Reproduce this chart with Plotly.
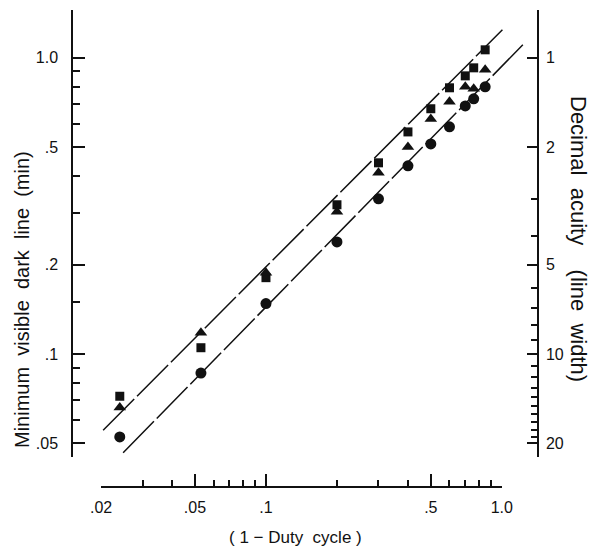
import numpy as np
import plotly.graph_objects as go

# ---------------- data ----------------
duty = [0.024, 0.053, 0.10, 0.20, 0.30, 0.40, 0.50, 0.60, 0.70, 0.76, 0.85]
squares = [0.072, 0.105, 0.181, 0.319, 0.442, 0.562, 0.673, 0.792, 0.869, 0.925, 1.064]
triangles = [0.066, 0.118, 0.188, 0.302, 0.409, 0.500, 0.622, 0.710, 0.798, 0.786, 0.911]
circles = [0.0525, 0.0862, 0.148, 0.239, 0.334, 0.432, 0.512, 0.585, 0.688, 0.727, 0.798]

upper_x = [0.0204, 1.006]
upper_y = [0.0553, 1.243]
lower_x = [0.0248, 1.228]
lower_y = [0.0464, 1.106]

# ---------------- tick labels ----------------
y_major = [1.0, 0.5, 0.2, 0.1, 0.05]
y_major_text = ["1.0", ".5", ".2", ".1", ".05"]
y_minor = [0.9, 0.8, 0.7, 0.6, 0.4, 0.3, 0.15, 0.09, 0.08, 0.07, 0.06]

x_major = [0.02, 0.05, 0.1, 0.5, 1.0]
x_major_text = [".02", ".05", ".1", ".5", "1.0"]
x_minor = [0.03, 0.04, 0.06, 0.07, 0.08, 0.09, 0.2, 0.3, 0.4, 0.6, 0.7, 0.8, 0.9]

acuity_major = [1, 2, 5, 10, 20]
acuity_major_text = ["1", "2", "5", "10", "20"]
acuity_minor = [3, 4, 6, 7, 8, 9, 11, 12, 13, 14, 15, 16, 17, 18, 19]

# ---------------- layout geometry ----------------
W, H = 602, 550
ML, MR, MT, MB = 73, 65, 10, 63
PW = W - ML - MR
PH = H - MT - MB

x_lo, x_hi = 0.0152, 1.41       # frame extent in data units
y_lo, y_hi = 0.0449, 1.45
xr = [float(np.log10(x_lo)), float(np.log10(x_hi))]
yr = [float(np.log10(y_lo)), float(np.log10(y_hi))]

ax_lo, ax_hi = x_major[0], x_major[-1]
d0 = (np.log10(ax_lo) - xr[0]) / (xr[1] - xr[0])
d1 = (np.log10(ax_hi) - xr[0]) / (xr[1] - xr[0])


def px2x(p):
    return (p - ML) / PW


def py2y(p):
    return (H - MB - p) / PH


FONT = "Liberation Sans, Arial, Helvetica, sans-serif"
BLACK = "#111111"

fig = go.Figure()

# helper empty traces so the extra axes get drawn
fig.add_trace(go.Scatter(x=[], y=[], xaxis="x2", yaxis="y", showlegend=False))
fig.add_trace(go.Scatter(x=[], y=[], xaxis="x", yaxis="y2", showlegend=False))

fig.add_trace(go.Scatter(x=upper_x, y=upper_y, mode="lines",
                         line=dict(color=BLACK, width=1.5, dash="44px,4px"),
                         hoverinfo="skip", showlegend=False))
fig.add_trace(go.Scatter(x=lower_x, y=lower_y, mode="lines",
                         line=dict(color=BLACK, width=1.5, dash="44px,4px"),
                         hoverinfo="skip", showlegend=False))

fig.add_trace(go.Scatter(x=duty, y=circles, mode="markers",
                         marker=dict(symbol="circle", size=11, color=BLACK),
                         showlegend=False))
fig.add_trace(go.Scatter(x=duty, y=squares, mode="markers",
                         marker=dict(symbol="square", size=9, color=BLACK),
                         showlegend=False))
fig.add_trace(go.Scatter(x=duty, y=triangles, mode="markers",
                         marker=dict(symbol="triangle-up", size=11, color=BLACK),
                         showlegend=False))

tickfont = dict(family=FONT, size=16, color=BLACK)

fig.update_layout(
    width=W, height=H,
    margin=dict(l=ML, r=MR, t=MT, b=MB, pad=0),
    paper_bgcolor="white", plot_bgcolor="rgba(0,0,0,0)",
    showlegend=False,
    xaxis=dict(type="log", range=xr, visible=False, domain=[0, 1],
               anchor="y", showgrid=False, zeroline=False),
    xaxis2=dict(type="log", range=[float(np.log10(ax_lo)), float(np.log10(ax_hi))],
                domain=[float(d0), float(d1)], anchor="free", position=0,
                showline=True, linecolor=BLACK, linewidth=1.5,
                showgrid=False, zeroline=False,
                ticks="inside", ticklen=12, tickwidth=1.5, tickcolor=BLACK,
                tickmode="array", tickvals=x_major, ticktext=x_major_text,
                tickfont=tickfont, ticklabelstandoff=6,
                minor=dict(tickmode="array", tickvals=x_minor, ticks="inside",
                           ticklen=6, tickwidth=1.5, tickcolor=BLACK, showgrid=False)),
    yaxis=dict(type="log", range=yr, domain=[py2y(457), 1], anchor="x",
               showline=True, linecolor=BLACK, linewidth=1.5,
               showgrid=False, zeroline=False,
               ticks="inside", ticklen=12, tickwidth=1.5, tickcolor=BLACK,
               tickmode="array", tickvals=y_major, ticktext=y_major_text,
               tickfont=tickfont, ticklabelstandoff=10,
               minor=dict(tickmode="array", tickvals=y_minor, ticks="inside",
                          ticklen=7, tickwidth=1.5, tickcolor=BLACK, showgrid=False)),
    yaxis2=dict(type="log", range=[-yr[0], -yr[1]], overlaying="y", side="right",
                anchor="x", showline=True, linecolor=BLACK, linewidth=1.5,
                showgrid=False, zeroline=False,
                ticks="inside", ticklen=10, tickwidth=1.5, tickcolor=BLACK,
                tickmode="array", tickvals=acuity_major, ticktext=acuity_major_text,
                tickfont=tickfont, ticklabelstandoff=4,
                minor=dict(tickmode="array", tickvals=acuity_minor, ticks="inside",
                           ticklen=6, tickwidth=1.5, tickcolor=BLACK, showgrid=False)),
    annotations=[
        dict(text="Minimum  visible  dark  line  (min)", xref="paper", yref="paper",
             x=px2x(22), y=py2y(300), textangle=-90, showarrow=False,
             xanchor="center", yanchor="middle",
             font=dict(family=FONT, size=20, color=BLACK)),
        dict(text="Decimal  acuity    (line  width)", xref="paper", yref="paper",
             x=px2x(579), y=py2y(239), textangle=90, showarrow=False,
             xanchor="center", yanchor="middle",
             font=dict(family=FONT, size=22, color=BLACK)),
        dict(text="( 1 − Duty  cycle )", xref="paper", yref="paper",
             x=px2x(295), y=py2y(537), showarrow=False,
             xanchor="center", yanchor="middle",
             font=dict(family=FONT, size=17, color=BLACK)),
    ],
)

fig.write_html("out.html", config={"displayModeBar": False},
               post_script="document.body.style.margin='0';document.body.style.padding='0';")
